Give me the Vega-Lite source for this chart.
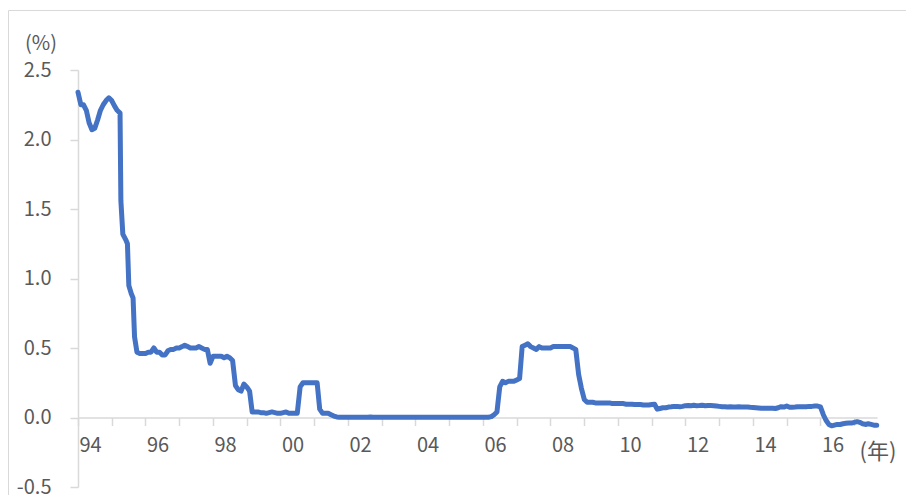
{
  "$schema": "https://vega.github.io/schema/vega-lite/v6.json",
  "width": 898,
  "height": 485,
  "autosize": {"type": "none"},
  "padding": {"left": 8, "top": 10, "right": 0, "bottom": 0},
  "background": "white",
  "config": {
    "view": {"stroke": "#d9d9d9", "strokeWidth": 1},
    "font": "Noto Sans CJK JP"
  },
  "data": {
    "values": [
      {"month": "1994-01", "rate": 2.34}, {"month": "1994-02", "rate": 2.25}, {"month": "1994-03", "rate": 2.25}, {"month": "1994-04", "rate": 2.21},
      {"month": "1994-05", "rate": 2.12}, {"month": "1994-06", "rate": 2.07}, {"month": "1994-07", "rate": 2.08}, {"month": "1994-08", "rate": 2.14},
      {"month": "1994-09", "rate": 2.21}, {"month": "1994-10", "rate": 2.25}, {"month": "1994-11", "rate": 2.28}, {"month": "1994-12", "rate": 2.30},
      {"month": "1995-01", "rate": 2.28}, {"month": "1995-02", "rate": 2.24}, {"month": "1995-03", "rate": 2.21}, {"month": "1995-04", "rate": 2.19},
      {"month": "1995-04-10", "rate": 1.56}, {"month": "1995-05", "rate": 1.32}, {"month": "1995-06", "rate": 1.28}, {"month": "1995-06-20", "rate": 1.25},
      {"month": "1995-07-05", "rate": 0.95}, {"month": "1995-08", "rate": 0.89}, {"month": "1995-08-20", "rate": 0.86}, {"month": "1995-09-05", "rate": 0.58},
      {"month": "1995-10", "rate": 0.47}, {"month": "1995-11", "rate": 0.46}, {"month": "1995-12", "rate": 0.46},
      {"month": "1996-01", "rate": 0.46}, {"month": "1996-02", "rate": 0.47}, {"month": "1996-03", "rate": 0.47}, {"month": "1996-04", "rate": 0.50},
      {"month": "1996-05", "rate": 0.47}, {"month": "1996-06", "rate": 0.47}, {"month": "1996-07", "rate": 0.45}, {"month": "1996-08", "rate": 0.45},
      {"month": "1996-09", "rate": 0.48}, {"month": "1996-10", "rate": 0.49}, {"month": "1996-11", "rate": 0.49}, {"month": "1996-12", "rate": 0.50},
      {"month": "1997-01", "rate": 0.50}, {"month": "1997-02", "rate": 0.51}, {"month": "1997-03", "rate": 0.52}, {"month": "1997-04", "rate": 0.51},
      {"month": "1997-05", "rate": 0.50}, {"month": "1997-06", "rate": 0.50}, {"month": "1997-07", "rate": 0.50}, {"month": "1997-08", "rate": 0.51},
      {"month": "1997-09", "rate": 0.50}, {"month": "1997-10", "rate": 0.49}, {"month": "1997-11", "rate": 0.49}, {"month": "1997-12", "rate": 0.39},
      {"month": "1998-01", "rate": 0.44}, {"month": "1998-02", "rate": 0.44}, {"month": "1998-03", "rate": 0.44}, {"month": "1998-04", "rate": 0.44},
      {"month": "1998-05", "rate": 0.43}, {"month": "1998-06", "rate": 0.44}, {"month": "1998-07", "rate": 0.43}, {"month": "1998-08", "rate": 0.41},
      {"month": "1998-09", "rate": 0.23}, {"month": "1998-10", "rate": 0.20}, {"month": "1998-11", "rate": 0.19}, {"month": "1998-12", "rate": 0.24},
      {"month": "1999-01", "rate": 0.22}, {"month": "1999-02", "rate": 0.19}, {"month": "1999-03", "rate": 0.04}, {"month": "1999-04", "rate": 0.04},
      {"month": "1999-05", "rate": 0.04}, {"month": "1999-06", "rate": 0.035}, {"month": "1999-07", "rate": 0.035}, {"month": "1999-08", "rate": 0.03},
      {"month": "1999-09", "rate": 0.035}, {"month": "1999-10", "rate": 0.04}, {"month": "1999-11", "rate": 0.035}, {"month": "1999-12", "rate": 0.03},
      {"month": "2000-01", "rate": 0.03}, {"month": "2000-02", "rate": 0.035}, {"month": "2000-03", "rate": 0.04}, {"month": "2000-04", "rate": 0.03},
      {"month": "2000-05", "rate": 0.03}, {"month": "2000-06", "rate": 0.03}, {"month": "2000-07", "rate": 0.03}, {"month": "2000-08", "rate": 0.22},
      {"month": "2000-09", "rate": 0.25}, {"month": "2000-10", "rate": 0.25}, {"month": "2000-11", "rate": 0.25}, {"month": "2000-12", "rate": 0.25},
      {"month": "2001-01", "rate": 0.25}, {"month": "2001-02", "rate": 0.25}, {"month": "2001-03", "rate": 0.06}, {"month": "2001-04", "rate": 0.03},
      {"month": "2001-05", "rate": 0.03}, {"month": "2001-06", "rate": 0.03}, {"month": "2001-07", "rate": 0.02}, {"month": "2001-08", "rate": 0.01},
      {"month": "2001-09", "rate": 0.004}, {"month": "2001-10", "rate": 0.002}, {"month": "2001-11", "rate": 0.002}, {"month": "2001-12", "rate": 0.002},
      {"month": "2002-01", "rate": 0.002}, {"month": "2002-02", "rate": 0.002}, {"month": "2002-03", "rate": 0.002}, {"month": "2002-04", "rate": 0.002},
      {"month": "2002-05", "rate": 0.002}, {"month": "2002-06", "rate": 0.002}, {"month": "2002-07", "rate": 0.002}, {"month": "2002-08", "rate": 0.002},
      {"month": "2002-09", "rate": 0.004}, {"month": "2002-10", "rate": 0.002}, {"month": "2002-11", "rate": 0.002}, {"month": "2002-12", "rate": 0.002},
      {"month": "2003-01", "rate": 0.001}, {"month": "2003-02", "rate": 0.001}, {"month": "2003-03", "rate": 0.001}, {"month": "2003-04", "rate": 0.001},
      {"month": "2003-05", "rate": 0.001}, {"month": "2003-06", "rate": 0.001}, {"month": "2003-07", "rate": 0.001}, {"month": "2003-08", "rate": 0.001},
      {"month": "2003-09", "rate": 0.001}, {"month": "2003-10", "rate": 0.001}, {"month": "2003-11", "rate": 0.001}, {"month": "2003-12", "rate": 0.001},
      {"month": "2004-01", "rate": 0.001}, {"month": "2004-02", "rate": 0.001}, {"month": "2004-03", "rate": 0.001}, {"month": "2004-04", "rate": 0.001},
      {"month": "2004-05", "rate": 0.001}, {"month": "2004-06", "rate": 0.001}, {"month": "2004-07", "rate": 0.001}, {"month": "2004-08", "rate": 0.001},
      {"month": "2004-09", "rate": 0.001}, {"month": "2004-10", "rate": 0.001}, {"month": "2004-11", "rate": 0.001}, {"month": "2004-12", "rate": 0.001},
      {"month": "2005-01", "rate": 0.001}, {"month": "2005-02", "rate": 0.001}, {"month": "2005-03", "rate": 0.001}, {"month": "2005-04", "rate": 0.001},
      {"month": "2005-05", "rate": 0.001}, {"month": "2005-06", "rate": 0.001}, {"month": "2005-07", "rate": 0.001}, {"month": "2005-08", "rate": 0.001},
      {"month": "2005-09", "rate": 0.001}, {"month": "2005-10", "rate": 0.001}, {"month": "2005-11", "rate": 0.001}, {"month": "2005-12", "rate": 0.001},
      {"month": "2006-01", "rate": 0.001}, {"month": "2006-02", "rate": 0.001}, {"month": "2006-03", "rate": 0.002}, {"month": "2006-04", "rate": 0.006},
      {"month": "2006-05", "rate": 0.02}, {"month": "2006-06", "rate": 0.04}, {"month": "2006-07", "rate": 0.22}, {"month": "2006-08", "rate": 0.26},
      {"month": "2006-09", "rate": 0.25}, {"month": "2006-10", "rate": 0.26}, {"month": "2006-11", "rate": 0.26}, {"month": "2006-12", "rate": 0.26},
      {"month": "2007-01", "rate": 0.27}, {"month": "2007-02", "rate": 0.28}, {"month": "2007-03", "rate": 0.51}, {"month": "2007-04", "rate": 0.52},
      {"month": "2007-05", "rate": 0.53}, {"month": "2007-06", "rate": 0.51}, {"month": "2007-07", "rate": 0.50}, {"month": "2007-08", "rate": 0.49},
      {"month": "2007-09", "rate": 0.51}, {"month": "2007-10", "rate": 0.50}, {"month": "2007-11", "rate": 0.50}, {"month": "2007-12", "rate": 0.50},
      {"month": "2008-01", "rate": 0.50}, {"month": "2008-02", "rate": 0.51}, {"month": "2008-03", "rate": 0.51}, {"month": "2008-04", "rate": 0.51},
      {"month": "2008-05", "rate": 0.51}, {"month": "2008-06", "rate": 0.51}, {"month": "2008-07", "rate": 0.51}, {"month": "2008-08", "rate": 0.51},
      {"month": "2008-09", "rate": 0.50}, {"month": "2008-10", "rate": 0.49}, {"month": "2008-11", "rate": 0.31}, {"month": "2008-12", "rate": 0.21},
      {"month": "2009-01", "rate": 0.13}, {"month": "2009-02", "rate": 0.11}, {"month": "2009-03", "rate": 0.11}, {"month": "2009-04", "rate": 0.11},
      {"month": "2009-05", "rate": 0.105}, {"month": "2009-06", "rate": 0.105}, {"month": "2009-07", "rate": 0.105}, {"month": "2009-08", "rate": 0.105},
      {"month": "2009-09", "rate": 0.105}, {"month": "2009-10", "rate": 0.105}, {"month": "2009-11", "rate": 0.10}, {"month": "2009-12", "rate": 0.10},
      {"month": "2010-01", "rate": 0.10}, {"month": "2010-02", "rate": 0.10}, {"month": "2010-03", "rate": 0.10}, {"month": "2010-04", "rate": 0.095},
      {"month": "2010-05", "rate": 0.095}, {"month": "2010-06", "rate": 0.095}, {"month": "2010-07", "rate": 0.093}, {"month": "2010-08", "rate": 0.093},
      {"month": "2010-09", "rate": 0.093}, {"month": "2010-10", "rate": 0.09}, {"month": "2010-11", "rate": 0.09}, {"month": "2010-12", "rate": 0.09},
      {"month": "2011-01", "rate": 0.093}, {"month": "2011-02", "rate": 0.095}, {"month": "2011-03", "rate": 0.06}, {"month": "2011-04", "rate": 0.065},
      {"month": "2011-05", "rate": 0.07}, {"month": "2011-06", "rate": 0.07}, {"month": "2011-07", "rate": 0.075}, {"month": "2011-08", "rate": 0.077},
      {"month": "2011-09", "rate": 0.08}, {"month": "2011-10", "rate": 0.08}, {"month": "2011-11", "rate": 0.078}, {"month": "2011-12", "rate": 0.08},
      {"month": "2012-01", "rate": 0.085}, {"month": "2012-02", "rate": 0.087}, {"month": "2012-03", "rate": 0.085}, {"month": "2012-04", "rate": 0.088},
      {"month": "2012-05", "rate": 0.085}, {"month": "2012-06", "rate": 0.086}, {"month": "2012-07", "rate": 0.088}, {"month": "2012-08", "rate": 0.085},
      {"month": "2012-09", "rate": 0.087}, {"month": "2012-10", "rate": 0.086}, {"month": "2012-11", "rate": 0.085}, {"month": "2012-12", "rate": 0.083},
      {"month": "2013-01", "rate": 0.08}, {"month": "2013-02", "rate": 0.077}, {"month": "2013-03", "rate": 0.078}, {"month": "2013-04", "rate": 0.075},
      {"month": "2013-05", "rate": 0.078}, {"month": "2013-06", "rate": 0.076}, {"month": "2013-07", "rate": 0.075}, {"month": "2013-08", "rate": 0.077},
      {"month": "2013-09", "rate": 0.076}, {"month": "2013-10", "rate": 0.075}, {"month": "2013-11", "rate": 0.075}, {"month": "2013-12", "rate": 0.073},
      {"month": "2014-01", "rate": 0.072}, {"month": "2014-02", "rate": 0.07}, {"month": "2014-03", "rate": 0.068}, {"month": "2014-04", "rate": 0.066},
      {"month": "2014-05", "rate": 0.067}, {"month": "2014-06", "rate": 0.066}, {"month": "2014-07", "rate": 0.066}, {"month": "2014-08", "rate": 0.067},
      {"month": "2014-09", "rate": 0.065}, {"month": "2014-10", "rate": 0.07}, {"month": "2014-11", "rate": 0.078}, {"month": "2014-12", "rate": 0.075},
      {"month": "2015-01", "rate": 0.083}, {"month": "2015-02", "rate": 0.074}, {"month": "2015-03", "rate": 0.074}, {"month": "2015-04", "rate": 0.075},
      {"month": "2015-05", "rate": 0.077}, {"month": "2015-06", "rate": 0.077}, {"month": "2015-07", "rate": 0.078}, {"month": "2015-08", "rate": 0.078},
      {"month": "2015-09", "rate": 0.08}, {"month": "2015-10", "rate": 0.08}, {"month": "2015-11", "rate": 0.082}, {"month": "2015-12", "rate": 0.082},
      {"month": "2016-01", "rate": 0.076}, {"month": "2016-02", "rate": 0.02}, {"month": "2016-03", "rate": -0.02}, {"month": "2016-04", "rate": -0.05},
      {"month": "2016-05", "rate": -0.06}, {"month": "2016-06", "rate": -0.055}, {"month": "2016-07", "rate": -0.05}, {"month": "2016-08", "rate": -0.05},
      {"month": "2016-09", "rate": -0.045}, {"month": "2016-10", "rate": -0.042}, {"month": "2016-11", "rate": -0.04}, {"month": "2016-12", "rate": -0.04},
      {"month": "2017-01", "rate": -0.035}, {"month": "2017-02", "rate": -0.03}, {"month": "2017-03", "rate": -0.035}, {"month": "2017-04", "rate": -0.045},
      {"month": "2017-05", "rate": -0.05}, {"month": "2017-06", "rate": -0.045}, {"month": "2017-07", "rate": -0.05}, {"month": "2017-08", "rate": -0.055},
      {"month": "2017-09", "rate": -0.055}
    ]
  },
  "mark": {
    "type": "line",
    "color": "#4472c4",
    "strokeWidth": 5,
    "strokeCap": "round",
    "strokeJoin": "round",
    "clip": false
  },
  "encoding": {
    "x": {
      "field": "month",
      "type": "temporal",
      "scale": {
        "type": "utc",
        "domain": [
          {"year": 1994, "month": 1, "date": 1, "utc": true},
          {"year": 2017, "month": 9, "date": 4, "utc": true}
        ],
        "range": [70, 869]
      },
      "axis": {
        "offset": -77.5,
        "grid": false,
        "domainColor": "#d9d9d9",
        "domainWidth": 1.5,
        "tickColor": "#d9d9d9",
        "tickWidth": 1.5,
        "tickSize": 8,
        "tickCount": {"interval": "year", "step": 1},
        "labelExpr": "utcyear(datum.value) % 2 == 0 ? utcFormat(datum.value, '%y') : ''",
        "labelAlign": "left",
        "labelBaseline": "top",
        "labelPadding": 10,
        "labelOffset": 1,
        "labelFontSize": 20,
        "labelColor": "#595959",
        "labelOverlap": false,
        "labelFlush": false,
        "title": "(年)",
        "titleX": 869.5,
        "titleY": 34,
        "titleAlign": "center",
        "titleBaseline": "middle",
        "titleFontSize": 22,
        "titleFontWeight": "normal",
        "titleColor": "#595959"
      }
    },
    "y": {
      "field": "rate",
      "type": "quantitative",
      "scale": {"domain": [-0.5, 2.5], "range": [477, 60], "nice": false, "zero": false},
      "axis": {
        "offset": -70,
        "grid": false,
        "values": [-0.5, 0, 0.5, 1, 1.5, 2, 2.5],
        "labelExpr": "datum.value < 0 ? '-' + format(-datum.value, '.1f') : format(datum.value, '.1f')",
        "domainColor": "#d9d9d9",
        "domainWidth": 1.5,
        "tickColor": "#d9d9d9",
        "tickWidth": 1.5,
        "tickSize": 8,
        "labelPadding": 19,
        "labelFontSize": 20,
        "labelColor": "#595959",
        "labelOverlap": false,
        "labelFlush": false,
        "title": "(%)",
        "titleX": -37.5,
        "titleY": 33,
        "titleAngle": 0,
        "titleAlign": "center",
        "titleBaseline": "middle",
        "titleFontSize": 20,
        "titleFontWeight": "normal",
        "titleColor": "#595959"
      }
    }
  }
}
